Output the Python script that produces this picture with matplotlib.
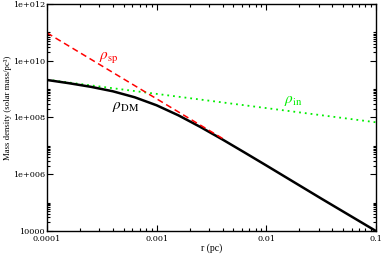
import matplotlib
matplotlib.use("Agg")
import matplotlib.pyplot as plt
import numpy as np
from matplotlib.ticker import FixedLocator, NullFormatter

# values (r in pc, density in solar mass / pc^3)
r_dm = [1e-4, 1.585e-4, 2.512e-4, 3.981e-4, 6.31e-4, 1e-3, 1.585e-3,
        2.512e-3, 3.981e-3, 6.31e-3, 1e-2, 3.162e-2, 0.1]
rho_dm = [2.09e9, 1.61e9, 1.20e9, 8.36e8, 5.14e8, 2.68e8, 1.18e8,
          4.60e7, 1.68e7, 5.89e6, 2.04e6, 1.40e5, 1.0e4]

r_sp = [1e-4, 4e-3]
rho_sp = [9.55e10, 1.81e7]

r_in = [1e-4, 0.1]
rho_in = [2.14e9, 6.76e7]

xticks = [1e-4, 1e-3, 1e-2, 1e-1]
xlabels = ["0.0001", "0.001", "0.01", "0.1"]
yticks = [1e4, 1e6, 1e8, 1e10, 1e12]
ylabels = ["10000", "1e+006", "1e+008", "1e+010", "1e+012"]

plt.rcParams['font.family'] = ['DejaVu Serif']
plt.rcParams['mathtext.fontset'] = 'stix'

fig = plt.figure(figsize=(3.82, 2.56), dpi=100)
ax = fig.add_axes([0.123, 0.0977, 0.861, 0.887])
ax.set_xscale('log')
ax.set_yscale('log')

# draw order: green under black, red on top
ax.plot(r_in, rho_in, color='#00ee00', linestyle=(0, (1, 2.2)), linewidth=1.3)
ax.plot(r_dm, rho_dm, color='black', linewidth=1.8)
ax.plot(r_sp, rho_sp, color='#ff0000', linestyle=(0, (4, 2.5)), linewidth=1.1)

ax.set_xlim(1e-4, 0.1)
ax.set_ylim(1e4, 1e12)

# ticks: inside, on every side
ax.xaxis.set_major_locator(FixedLocator(xticks))
ax.set_xticklabels(xlabels)
xminor = [k * d for d in [1e-4, 1e-3, 1e-2] for k in range(2, 10)]
ax.xaxis.set_minor_locator(FixedLocator(xminor))
ax.yaxis.set_major_locator(FixedLocator(yticks))
ax.set_yticklabels(ylabels)
yminor = [k * d for d in [1e4, 1e6, 1e8, 1e10] for k in range(2, 11)]
ax.yaxis.set_minor_locator(FixedLocator(yminor))
ax.xaxis.set_minor_formatter(NullFormatter())
ax.yaxis.set_minor_formatter(NullFormatter())

ax.tick_params(which='both', direction='in', top=True, right=True,
               labelsize=5.9, width=0.8)
ax.tick_params(which='major', length=4.5)
ax.tick_params(which='minor', length=2.5)
ax.tick_params(axis='y', pad=1.5)
ax.tick_params(axis='x', pad=3.0)
for s in ax.spines.values():
    s.set_linewidth(1.0)

ax.set_xlabel("r (pc)", fontsize=7, family='Liberation Serif')
ax.xaxis.set_label_coords(0.5, -0.055)
ax.set_ylabel("Mass density (solar mass/pc³)", fontsize=6.3,
              family='Liberation Serif')
ax.yaxis.set_label_coords(-0.106, 0.54)

ax.text(2.98e-4, 1.34e10, r'$\rho_{\rm sp}$', color='#ff0000', fontsize=11,
        ha='left', va='center')
ax.text(3.92e-4, 2.29e8, r'$\rho_{\rm DM}$', color='black', fontsize=11,
        ha='left', va='center')
ax.text(1.45e-2, 3.7e8, r'$\rho_{\rm in}$', color='#00ee00', fontsize=11,
        ha='left', va='center')

fig.savefig("out.png", dpi=100)
